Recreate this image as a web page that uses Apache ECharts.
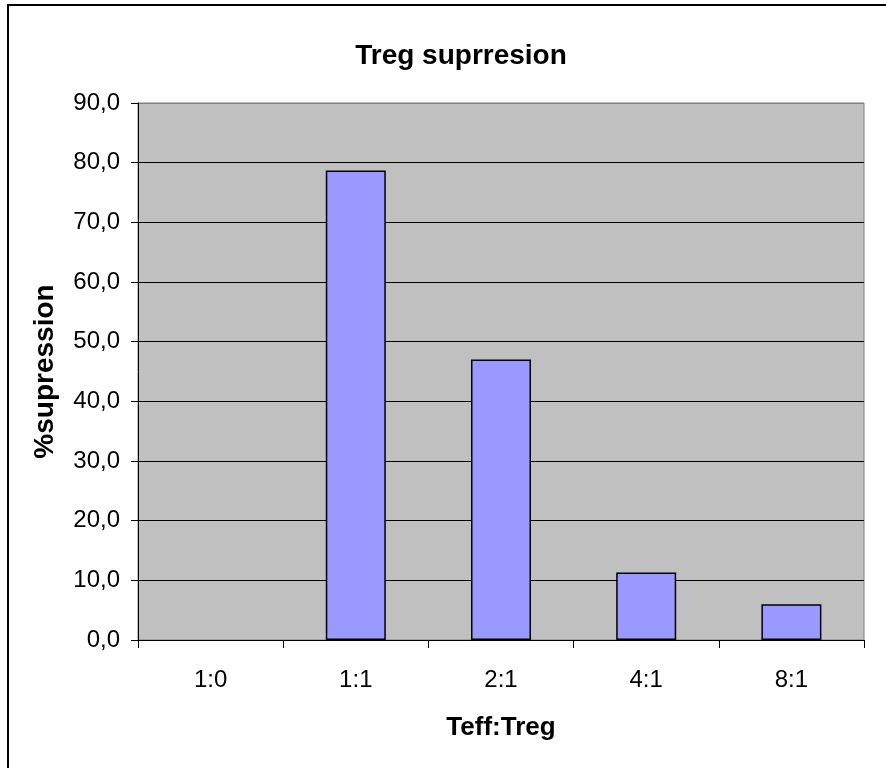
<!DOCTYPE html>
<html>
<head>
<meta charset="utf-8">
<script src="https://cdn.jsdelivr.net/npm/echarts@6/dist/echarts.min.js"></script>
<style>
  html, body { margin: 0; padding: 0; background: #fff; }
  #chart { width: 886px; height: 768px; }
</style>
</head>
<body>
<div id="chart"></div>
<script>
// Teff:Treg ratios and measured suppression (%)
const categories = ['1:0', '1:1', '2:1', '4:1', '8:1'];
const suppression = [0, 78.7, 47.0, 11.3, 6.0];
const yTicks = { min: 0, max: 90, step: 10 };

const FONT = '"Liberation Sans", Arial, sans-serif';

// Gridlines are black; the top one doubles as the grey plot border
const gridColors = [];
for (let v = yTicks.min; v <= yTicks.max; v += yTicks.step) {
  gridColors.push(v === yTicks.max ? '#808080' : '#000000');
}

// A zero value leaves no visible bar outline
const barData = suppression.map(v => v === 0
  ? { value: v, itemStyle: { borderWidth: 0, opacity: 0 } }
  : v);

const chart = echarts.init(document.getElementById('chart'), null, { renderer: 'canvas' });
chart.setOption({
  backgroundColor: '#ffffff',
  animation: false,
  title: {
    text: 'Treg suprresion',
    left: 456,
    top: 37,
    textAlign: 'center',
    textStyle: { fontFamily: FONT, fontSize: 28, fontWeight: 'bold', color: '#000' }
  },
  graphic: [{
    type: 'rect',
    shape: { x: 8, y: 5, width: 900, height: 800 },
    style: { fill: null, stroke: '#000', lineWidth: 2 },
    silent: true,
    z: 100
  }],
  grid: {
    left: 138, right: 22, top: 103, bottom: 128,
    show: true,
    backgroundColor: '#C0C0C0',
    borderColor: '#808080',
    borderWidth: 1
  },
  xAxis: {
    type: 'category',
    data: categories,
    boundaryGap: true,
    name: 'Teff:Treg',
    nameLocation: 'middle',
    nameGap: 75,
    nameTextStyle: { fontFamily: FONT, fontSize: 26, fontWeight: 'bold', color: '#000' },
    axisLine: { lineStyle: { color: '#000', width: 1 } },
    axisTick: { show: true, length: 8, alignWithLabel: false, lineStyle: { color: '#000' } },
    axisLabel: { margin: 28, fontFamily: FONT, fontSize: 24, color: '#000' },
    splitLine: { show: false }
  },
  yAxis: {
    type: 'value',
    min: yTicks.min,
    max: yTicks.max,
    interval: yTicks.step,
    name: '%supression',
    nameLocation: 'middle',
    nameGap: 79,
    nameTextStyle: { fontFamily: FONT, fontSize: 28, fontWeight: 'bold', color: '#000' },
    axisLine: { show: true, lineStyle: { color: '#000', width: 1 } },
    axisTick: { show: true, length: 7, lineStyle: { color: '#000' } },
    axisLabel: {
      margin: 18,
      fontFamily: FONT,
      fontSize: 24,
      color: '#000',
      formatter: v => v.toFixed(1).replace('.', ',')
    },
    splitLine: { show: true, lineStyle: { color: gridColors, width: 1 } }
  },
  series: [{
    type: 'bar',
    data: barData,
    barWidth: 60,
    itemStyle: { color: '#9999FF', borderColor: '#000', borderWidth: 1.5 },
    label: { show: false }
  }]
});
</script>
</body>
</html>
